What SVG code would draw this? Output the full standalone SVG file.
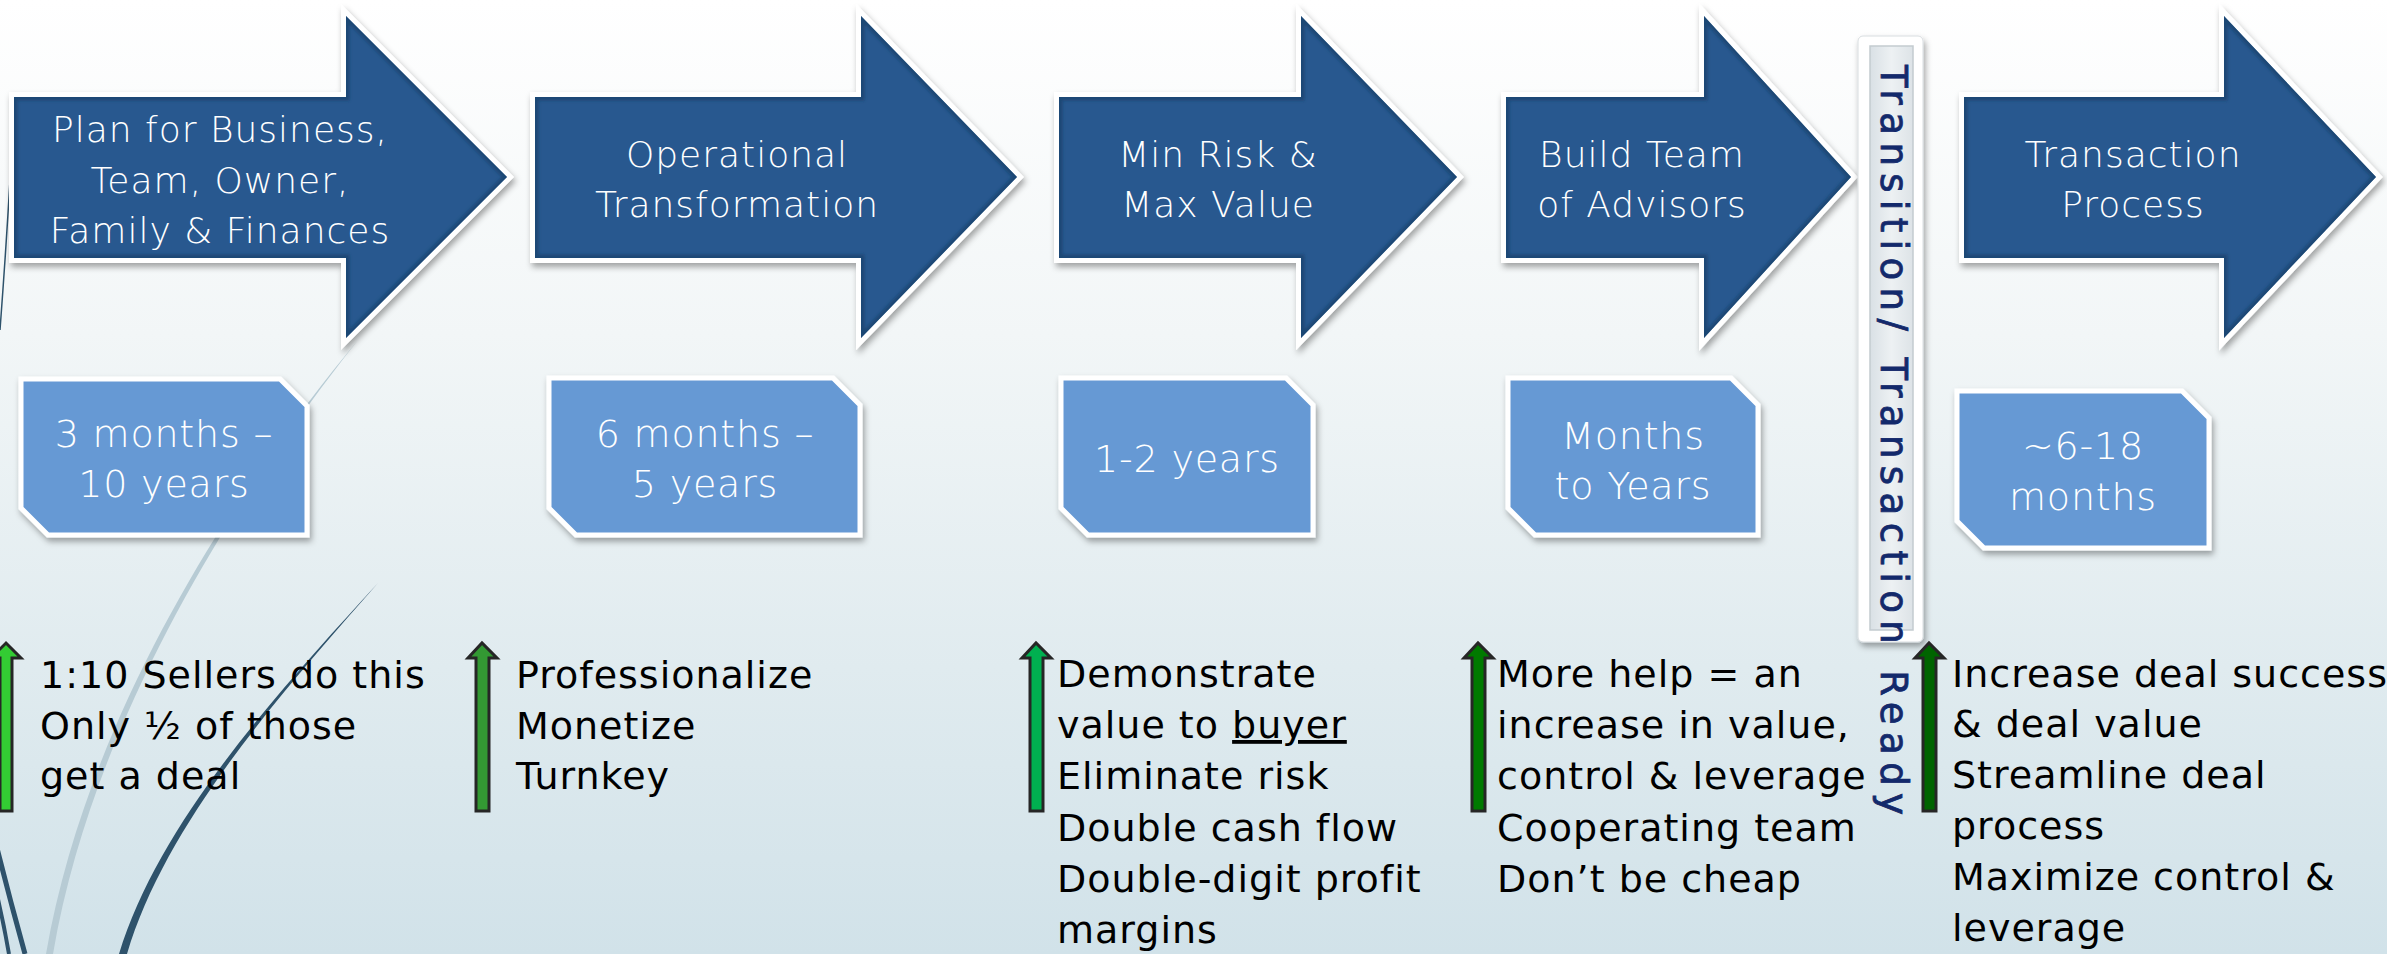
<svg xmlns="http://www.w3.org/2000/svg" width="2387" height="954" viewBox="0 0 2387 954">
  <defs>
    <linearGradient id="bg" x1="0" y1="0" x2="0" y2="1">
      <stop offset="0" stop-color="#FFFFFF"/>
      <stop offset="0.35" stop-color="#F2F6F7"/>
      <stop offset="0.7" stop-color="#E0EBEF"/>
      <stop offset="1" stop-color="#D1E2E9"/>
    </linearGradient>
    <linearGradient id="bandFill" x1="0" y1="0" x2="1" y2="0">
      <stop offset="0" stop-color="#D9E0E5"/>
      <stop offset="0.5" stop-color="#EDF1F3"/>
      <stop offset="1" stop-color="#DDE3E7"/>
    </linearGradient>
    <filter id="shadow" x="-10%" y="-10%" width="125%" height="130%">
      <feDropShadow dx="2" dy="4" stdDeviation="3" flood-color="#000" flood-opacity="0.35"/>
    </filter>
    <filter id="soft" x="-5%" y="-5%" width="110%" height="110%">
      <feGaussianBlur stdDeviation="1.6"/>
    </filter>
    <style>
      .frame { stroke: #FFFFFF; stroke-width: 10; stroke-linejoin: miter; fill: #FFFFFF; }
      .blue { fill: #28588F; }
      .bevel { fill: none; stroke: #153A63; stroke-width: 7; stroke-opacity: 0.6; }
      .head { font-family: "DejaVu Sans", "Liberation Sans", sans-serif; font-weight: 200; font-size: 36px; letter-spacing: 1px; fill: #FFFFFF; text-anchor: middle; }
      .tile { fill: #6699D4; stroke: #FFFFFF; stroke-width: 5; stroke-linejoin: miter; }
      .span { font-family: "DejaVu Sans", "Liberation Sans", sans-serif; font-weight: 200; font-size: 38px; letter-spacing: 0.8px; fill: #FFFFFF; text-anchor: middle; }
      .note { font-family: "DejaVu Sans", "Liberation Sans", sans-serif; font-size: 38px; letter-spacing: 1px; fill: #000000; }
      .up { stroke: #262626; stroke-width: 3; stroke-linejoin: miter; }
      .band { font-family: "DejaVu Sans", "Liberation Sans", sans-serif; font-size: 37px; fill: #13296B; stroke: #13296B; stroke-width: 0.8; }
      .wisp-dark { fill: #2E526B; }
      .wisp-light { fill: #B7CBD4; }
    </style>
  </defs>

  <!-- page background -->
  <rect x="0" y="0" width="2387" height="954" fill="url(#bg)"/>

  <!-- background wisps, lower left -->
  <g id="wisps">
    <path class="wisp-light" d="M 358,340 C 250,470 90,700 46,954 L 53,954 C 96,702 254,472 358,340 Z"/>
    <path class="wisp-dark" d="M 378,583 C 280,690 160,820 119,954 L 127,954 C 166,822 283,691 378,583 Z"/>
    <path d="M -3,848 Q 10,900 25,954" fill="none" stroke="#2E526B" stroke-width="5"/>
    <path d="M -3,895 Q 4,925 9,954" fill="none" stroke="#2E526B" stroke-width="4"/>
    <path d="M 10,180 Q 6,250 0,330" fill="none" stroke="#2E526B" stroke-width="1.5"/>
  </g>

  <!-- stage arrows -->
  <g id="stage-plan">
    <path class="frame" filter="url(#shadow)" d="M 14,97 L 346,97 L 346,16 L 507,177 L 346,338 L 346,258 L 14,258 Z"/>
    <path class="blue" d="M 14,97 L 346,97 L 346,16 L 507,177 L 346,338 L 346,258 L 14,258 Z"/>
    <clipPath id="c1"><path d="M 14,97 L 346,97 L 346,16 L 507,177 L 346,338 L 346,258 L 14,258 Z"/></clipPath>
    <path class="bevel" clip-path="url(#c1)" filter="url(#soft)" d="M 14,97 L 346,97 L 346,16 L 507,177 L 346,338 L 346,258 L 14,258 Z"/>
    <text class="head" x="220" y="142">Plan for Business,</text>
    <text class="head" x="220" y="193">Team, Owner,</text>
    <text class="head" x="220" y="243">Family &amp; Finances</text>
  </g>

  <g id="stage-operational">
    <path class="frame" filter="url(#shadow)" d="M 535,97 L 861,97 L 861,16 L 1017,177 L 861,338 L 861,258 L 535,258 Z"/>
    <path class="blue" d="M 535,97 L 861,97 L 861,16 L 1017,177 L 861,338 L 861,258 L 535,258 Z"/>
    <clipPath id="c2"><path d="M 535,97 L 861,97 L 861,16 L 1017,177 L 861,338 L 861,258 L 535,258 Z"/></clipPath>
    <path class="bevel" clip-path="url(#c2)" filter="url(#soft)" d="M 535,97 L 861,97 L 861,16 L 1017,177 L 861,338 L 861,258 L 535,258 Z"/>
    <text class="head" x="737" y="167">Operational</text>
    <text class="head" x="737" y="217">Transformation</text>
  </g>

  <g id="stage-risk">
    <path class="frame" filter="url(#shadow)" d="M 1059,97 L 1301,97 L 1301,16 L 1457,177 L 1301,338 L 1301,258 L 1059,258 Z"/>
    <path class="blue" d="M 1059,97 L 1301,97 L 1301,16 L 1457,177 L 1301,338 L 1301,258 L 1059,258 Z"/>
    <clipPath id="c3"><path d="M 1059,97 L 1301,97 L 1301,16 L 1457,177 L 1301,338 L 1301,258 L 1059,258 Z"/></clipPath>
    <path class="bevel" clip-path="url(#c3)" filter="url(#soft)" d="M 1059,97 L 1301,97 L 1301,16 L 1457,177 L 1301,338 L 1301,258 L 1059,258 Z"/>
    <text class="head" x="1218" y="167">Min Risk &amp;</text>
    <text class="head" x="1218" y="217">Max Value</text>
  </g>

  <g id="stage-advisors">
    <path class="frame" filter="url(#shadow)" d="M 1506,97 L 1704,97 L 1704,16 L 1851,177 L 1704,338 L 1704,258 L 1506,258 Z"/>
    <path class="blue" d="M 1506,97 L 1704,97 L 1704,16 L 1851,177 L 1704,338 L 1704,258 L 1506,258 Z"/>
    <clipPath id="c4"><path d="M 1506,97 L 1704,97 L 1704,16 L 1851,177 L 1704,338 L 1704,258 L 1506,258 Z"/></clipPath>
    <path class="bevel" clip-path="url(#c4)" filter="url(#soft)" d="M 1506,97 L 1704,97 L 1704,16 L 1851,177 L 1704,338 L 1704,258 L 1506,258 Z"/>
    <text class="head" x="1642" y="167">Build Team</text>
    <text class="head" x="1642" y="217">of Advisors</text>
  </g>

  <g id="stage-transaction">
    <path class="frame" filter="url(#shadow)" d="M 1964,97 L 2224,97 L 2224,16 L 2376,177 L 2224,338 L 2224,258 L 1964,258 Z"/>
    <path class="blue" d="M 1964,97 L 2224,97 L 2224,16 L 2376,177 L 2224,338 L 2224,258 L 1964,258 Z"/>
    <clipPath id="c5"><path d="M 1964,97 L 2224,97 L 2224,16 L 2376,177 L 2224,338 L 2224,258 L 1964,258 Z"/></clipPath>
    <path class="bevel" clip-path="url(#c5)" filter="url(#soft)" d="M 1964,97 L 2224,97 L 2224,16 L 2376,177 L 2224,338 L 2224,258 L 1964,258 Z"/>
    <text class="head" x="2133" y="167">Transaction</text>
    <text class="head" x="2133" y="217">Process</text>
  </g>

  <!-- duration tiles -->
  <g id="span-plan">
    <path class="tile" filter="url(#shadow)" d="M 21,379 L 280,379 L 307,406 L 307,535 L 48,535 L 21,508 Z"/>
    <text class="span" x="164" y="447">3 months –</text>
    <text class="span" x="164" y="497">10 years</text>
  </g>
  <g id="span-operational">
    <path class="tile" filter="url(#shadow)" d="M 549,378 L 833,378 L 860,405 L 860,535 L 576,535 L 549,508 Z"/>
    <text class="span" x="705" y="447">6 months –</text>
    <text class="span" x="705" y="497">5 years</text>
  </g>
  <g id="span-risk">
    <path class="tile" filter="url(#shadow)" d="M 1061,378 L 1286,378 L 1313,405 L 1313,535 L 1088,535 L 1061,508 Z"/>
    <text class="span" x="1187" y="472">1-2 years</text>
  </g>
  <g id="span-advisors">
    <path class="tile" filter="url(#shadow)" d="M 1508,378 L 1731,378 L 1758,405 L 1758,535 L 1535,535 L 1508,508 Z"/>
    <text class="span" x="1633" y="449">Months</text>
    <text class="span" x="1633" y="499">to Years</text>
  </g>
  <g id="span-transaction">
    <path class="tile" filter="url(#shadow)" d="M 1957,391 L 2182,391 L 2209,418 L 2209,548 L 1984,548 L 1957,521 Z"/>
    <text class="span" x="2083" y="459">~6-18</text>
    <text class="span" x="2083" y="510">months</text>
  </g>

  <!-- vertical milestone band -->
  <g id="milestone">
    <rect x="1858" y="36" width="65" height="606" rx="5" fill="#FFFFFF" stroke="#D8DDE0" stroke-width="1" filter="url(#shadow)"/>
    <rect x="1870" y="46" width="43" height="584" fill="url(#bandFill)" stroke="#C3CBD0" stroke-width="1.5"/>
    <text class="band" transform="translate(1881,65) rotate(90)" x="0" y="0" textLength="750" lengthAdjust="spacing">Transition/ Transaction Ready</text>
  </g>

  <!-- growth indicators -->
  <g id="connectors">
    <path class="up" fill="#33CC33" d="M 0,811 L 0,658 L -9,658 L 6,643 L 21,658 L 12,658 L 12,811 Z"/>
    <path class="up" fill="#339933" d="M 476,811 L 476,658 L 468,658 L 482,643 L 497,658 L 489,658 L 489,811 Z"/>
    <path class="up" fill="#00B050" d="M 1030,811 L 1030,658 L 1022,658 L 1036,643 L 1051,658 L 1043,658 L 1043,811 Z"/>
    <path class="up" fill="#007A00" d="M 1472,811 L 1472,658 L 1464,658 L 1478,643 L 1493,658 L 1485,658 L 1485,811 Z"/>
    <path class="up" fill="#006400" d="M 1923,811 L 1923,658 L 1915,658 L 1929,643 L 1944,658 L 1936,658 L 1936,811 Z"/>
  </g>

  <!-- notes under each stage -->
  <g id="notes-plan">
    <text class="note" x="40" y="688" letter-spacing="0">1:10 Sellers do this</text>
    <text class="note" x="40" y="739">Only ½ of those</text>
    <text class="note" x="40" y="789">get a deal</text>
  </g>
  <g id="notes-operational">
    <text class="note" x="516" y="688">Professionalize</text>
    <text class="note" x="516" y="739">Monetize</text>
    <text class="note" x="516" y="789">Turnkey</text>
  </g>
  <g id="notes-risk">
    <text class="note" x="1057" y="687">Demonstrate</text>
    <text class="note" x="1057" y="738">value to <tspan text-decoration="underline">buyer</tspan></text>
    <text class="note" x="1057" y="789">Eliminate risk</text>
    <text class="note" x="1057" y="841">Double cash flow</text>
    <text class="note" x="1057" y="892">Double-digit profit</text>
    <text class="note" x="1057" y="943">margins</text>
  </g>
  <g id="notes-advisors">
    <text class="note" x="1497" y="687">More help = an</text>
    <text class="note" x="1497" y="738">increase in value,</text>
    <text class="note" x="1497" y="789">control &amp; leverage</text>
    <text class="note" x="1497" y="841">Cooperating team</text>
    <text class="note" x="1497" y="892">Don’t be cheap</text>
  </g>
  <g id="notes-transaction">
    <text class="note" x="1952" y="687">Increase deal success</text>
    <text class="note" x="1952" y="737">&amp; deal value</text>
    <text class="note" x="1952" y="788">Streamline deal</text>
    <text class="note" x="1952" y="839">process</text>
    <text class="note" x="1952" y="890">Maximize control &amp;</text>
    <text class="note" x="1952" y="941">leverage</text>
  </g>
</svg>
